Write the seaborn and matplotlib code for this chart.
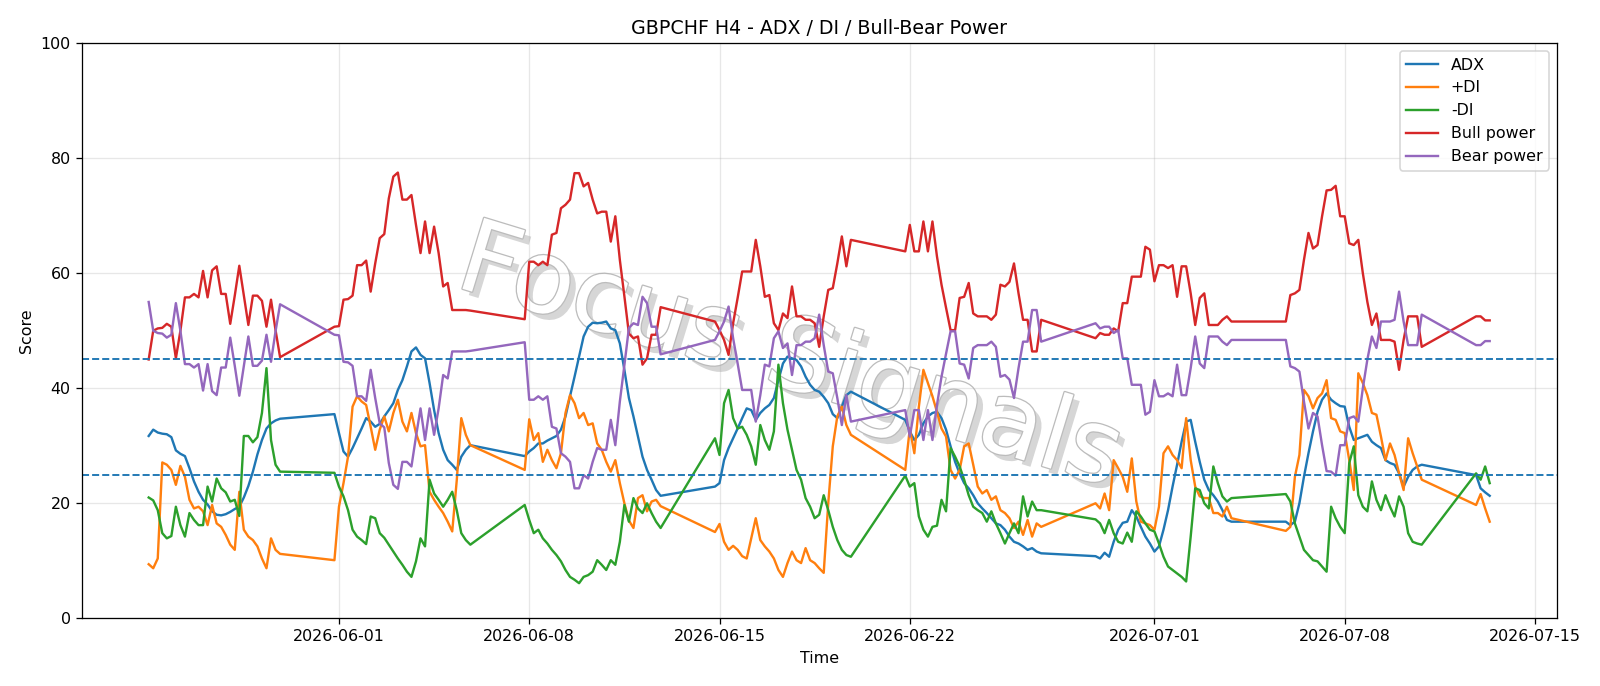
import matplotlib

matplotlib.use("Agg")
import matplotlib.patheffects as pe
import matplotlib.pyplot as plt
import pandas as pd
import seaborn as sns

# H4 bars: Sunday 20:00 open through Friday 20:00, weekends skipped
bar_times = pd.date_range("2026-05-25 00:00", "2026-07-13 08:00", freq="4h")
bar_times = bar_times[(bar_times.dayofweek < 5) | ((bar_times.dayofweek == 6) & (bar_times.hour == 20))]

adx = [
    31.7, 32.8, 32.3, 32.1, 32.0, 31.5, 29.2, 28.6, 28.2, 26.1, 23.8, 22.0, 20.6, 19.8, 18.6,
    18.0, 17.9, 18.1, 18.5, 19.0, 19.4, 21.0, 23.0, 25.5, 28.5, 31.0, 33.0, 33.9, 34.4, 34.7,
    35.5, 32.2, 29.0, 28.1, 29.6, 31.3, 33.0, 34.8, 34.2, 33.3, 33.8, 35.1, 36.2, 37.4, 39.7, 41.4,
    43.8, 46.4, 47.1, 45.8, 45.2, 40.9, 36.2, 32.2, 29.3, 27.5, 26.7, 25.8, 28.1, 29.3, 30.1,
    28.2, 29.0, 29.6, 30.4, 30.4, 30.9, 31.3, 31.7, 32.8, 35.1, 38.6, 42.0, 45.5, 49.0, 50.7, 51.4,
    51.3, 51.4, 51.6, 50.4, 50.1, 47.8, 43.2, 38.3, 35.1, 31.6, 28.1, 25.8, 24.1, 22.3, 21.3,
    22.9, 23.5, 27.5, 29.6, 31.3, 33.0, 34.8, 36.5, 36.2, 34.5, 35.7, 36.5, 37.1, 38.3, 41.4, 44.3,
    45.5, 45.2, 44.9, 43.8, 42.0, 40.6, 39.7, 39.4, 38.5, 37.4, 35.5, 34.8, 36.8, 38.8, 39.4,
    34.5, 32.5, 31.0, 31.9, 33.9, 35.1, 35.7, 35.9, 34.8, 32.8, 29.9, 27.2, 25.2, 23.5, 22.6, 21.4,
    20.0, 19.1, 18.3, 17.4, 16.5, 16.2, 15.4, 14.2, 13.3, 13.0, 12.5, 11.9, 12.2, 11.6, 11.3,
    10.8, 10.4, 11.4, 10.7, 13.3, 15.4, 16.6, 16.8, 18.8, 17.7, 15.9, 14.2, 13.0, 11.6, 12.5, 15.4,
    18.8, 22.9, 26.7, 30.7, 34.2, 34.5, 30.7, 27.2, 24.1, 22.3, 21.4, 20.3, 18.8, 17.1, 16.8,
    16.8, 16.2, 16.8, 20.0, 24.6, 28.7, 32.5, 35.9, 38.0, 39.1, 38.0, 37.4, 36.9, 36.8, 33.3, 31.0,
    31.3, 31.6, 31.9, 30.7, 30.1, 29.6, 27.5, 27.0, 26.7, 25.2, 22.9, 24.6, 25.8, 26.4, 26.7,
    24.9, 22.6, 21.9, 21.3,
]

plus_di = [
    9.4, 8.7, 10.4, 27.1, 26.7, 25.8, 23.2, 26.5, 24.6, 20.6, 19.1, 19.4, 18.6, 16.2, 19.7,
    16.5, 15.9, 14.5, 12.8, 11.9, 22.0, 15.4, 14.2, 13.6, 12.5, 10.4, 8.7, 13.9, 11.9, 11.2,
    10.1, 19.4, 23.5, 28.1, 36.8, 38.6, 37.7, 37.1, 33.3, 29.3, 32.8, 35.1, 32.5, 35.7, 38.0, 34.2,
    32.5, 35.7, 32.2, 29.9, 30.1, 22.0, 20.6, 19.4, 18.3, 16.8, 15.1, 24.0, 34.8, 31.9, 30.1,
    25.8, 34.6, 31.0, 32.2, 27.2, 29.3, 27.5, 26.1, 28.7, 35.7, 38.8, 37.4, 34.8, 35.7, 33.6, 33.9,
    30.4, 29.3, 27.2, 25.5, 27.5, 23.5, 20.0, 17.0, 15.7, 20.9, 21.4, 18.6, 20.3, 20.6, 19.5,
    15.0, 16.4, 13.3, 11.9, 12.6, 11.9, 10.8, 10.4, 13.9, 17.4, 13.6, 12.5, 11.6, 10.4, 8.4, 7.2,
    9.6, 11.6, 10.1, 9.6, 12.2, 10.1, 9.6, 8.7, 7.9, 20.0, 29.9, 35.1, 36.8, 33.6, 31.9,
    25.8, 33.0, 28.7, 36.8, 43.2, 40.9, 38.6, 35.9, 33.0, 31.6, 25.8, 24.3, 25.8, 29.9, 30.4, 26.7,
    22.9, 21.7, 22.3, 20.6, 21.2, 18.8, 18.3, 17.4, 15.7, 16.8, 14.5, 17.1, 14.2, 16.5, 15.9,
    20.0, 19.1, 21.7, 18.8, 27.5, 26.1, 24.6, 22.0, 27.8, 20.3, 16.8, 16.5, 16.2, 15.4, 19.4, 28.7,
    29.9, 28.4, 27.5, 26.1, 34.8, 27.5, 22.9, 21.2, 20.9, 20.9, 18.3, 18.3, 17.7, 19.4, 17.4,
    15.2, 15.9, 24.6, 28.4, 39.7, 38.6, 36.5, 38.3, 39.1, 41.4, 34.8, 34.5, 32.5, 32.2, 27.5, 22.3,
    42.6, 40.9, 38.8, 35.7, 35.4, 31.6, 27.5, 30.4, 28.4, 25.2, 22.3, 31.3, 28.7, 26.4, 24.1,
    19.7, 21.6, 19.1, 16.8,
]

minus_di = [
    21.0, 20.5, 18.8, 14.8, 13.9, 14.3, 19.4, 16.2, 14.2, 18.3, 17.1, 16.2, 16.2, 22.9, 20.3,
    24.3, 22.6, 21.9, 20.3, 20.6, 17.8, 31.7, 31.7, 30.6, 31.5, 35.7, 43.5, 31.0, 26.7, 25.5,
    25.3, 22.9, 21.2, 18.8, 15.4, 14.2, 13.6, 12.9, 17.7, 17.4, 14.8, 14.0, 12.8, 11.6, 10.4, 9.3,
    8.1, 7.2, 9.9, 13.9, 12.5, 24.1, 21.7, 20.6, 19.4, 20.6, 22.0, 18.8, 14.8, 13.6, 12.8,
    19.7, 17.1, 14.8, 15.4, 13.9, 13.0, 11.9, 11.0, 9.9, 8.4, 7.2, 6.7, 6.1, 7.2, 7.5, 8.1,
    10.1, 9.3, 8.4, 10.1, 9.3, 13.3, 19.7, 16.8, 20.9, 19.1, 18.3, 20.0, 18.3, 16.8, 15.7,
    31.3, 28.4, 37.4, 39.7, 34.8, 33.0, 33.3, 31.9, 29.9, 26.7, 33.6, 31.0, 29.3, 32.5, 44.1, 37.4,
    32.8, 29.3, 25.8, 24.1, 20.9, 19.4, 17.4, 18.0, 21.4, 18.8, 15.9, 13.6, 11.9, 11.0, 10.7,
    24.8, 22.9, 23.5, 17.7, 15.4, 14.2, 15.9, 16.1, 20.6, 18.6, 29.6, 28.1, 26.4, 24.1, 21.4, 19.4,
    18.8, 18.3, 16.8, 18.6, 16.5, 14.8, 13.0, 14.8, 16.5, 14.8, 21.2, 17.7, 20.3, 18.8, 18.8,
    17.2, 16.5, 14.8, 17.1, 14.8, 13.3, 13.0, 14.9, 13.3, 18.6, 17.7, 16.5, 15.4, 15.1, 13.0, 10.7,
    9.0, 8.4, 7.8, 7.2, 6.4, 14.2, 22.6, 22.3, 20.0, 19.1, 26.4, 23.5, 21.2, 20.3, 20.9,
    21.6, 20.3, 16.5, 14.2, 11.9, 11.0, 10.1, 9.9, 9.0, 8.1, 19.4, 17.4, 15.9, 14.8, 27.0, 29.9,
    21.4, 19.4, 18.6, 23.8, 20.6, 18.8, 21.4, 19.4, 17.7, 21.2, 19.4, 14.8, 13.3, 13.0, 12.8,
    25.2, 24.1, 26.4, 23.5,
]

bull_power = [
    45.0, 50.0, 50.4, 50.5, 51.2, 50.7, 45.2, 50.0, 55.8, 55.8, 56.4, 55.8, 60.4, 55.8, 60.5,
    61.2, 56.4, 56.4, 51.2, 56.1, 61.3, 56.1, 51.0, 56.1, 56.1, 55.2, 50.7, 55.4, 50.1, 45.4,
    50.7, 50.8, 55.4, 55.5, 56.1, 61.4, 61.4, 62.2, 56.8, 61.7, 66.1, 66.8, 73.0, 76.8, 77.5, 72.8,
    72.8, 73.6, 68.4, 63.5, 69.0, 63.5, 68.1, 63.5, 57.7, 58.3, 53.6, 53.6, 53.6, 53.6, 53.5,
    52.0, 62.0, 62.0, 61.4, 62.0, 61.4, 66.7, 67.0, 71.3, 71.9, 72.8, 77.4, 77.4, 75.1, 75.7, 72.8,
    70.4, 70.7, 70.7, 65.5, 69.9, 62.3, 56.0, 49.5, 48.7, 49.0, 44.1, 45.2, 49.3, 49.3, 54.1,
    51.6, 50.1, 48.4, 45.8, 51.3, 55.7, 60.3, 60.3, 60.3, 65.8, 61.2, 55.9, 56.2, 51.3, 50.1, 53.0,
    52.2, 57.7, 52.5, 52.5, 51.9, 51.9, 51.3, 47.2, 52.5, 57.1, 57.4, 61.7, 66.4, 61.2, 65.8,
    63.8, 68.4, 63.8, 63.8, 69.0, 63.8, 69.0, 62.9, 58.0, 54.0, 50.1, 50.1, 55.7, 55.9, 58.3, 53.0,
    52.5, 52.5, 52.5, 51.9, 52.8, 58.0, 57.7, 58.5, 61.7, 56.5, 51.9, 51.9, 46.4, 46.4, 51.9,
    48.7, 49.6, 49.3, 49.3, 50.4, 49.9, 54.8, 54.8, 59.4, 59.4, 59.4, 64.6, 64.1, 58.6, 61.4, 61.4,
    60.9, 61.4, 55.9, 61.2, 61.2, 56.5, 51.0, 55.7, 56.5, 51.0, 51.0, 51.0, 51.9, 52.5, 51.6,
    51.6, 56.2, 56.5, 57.1, 62.3, 67.0, 64.3, 64.9, 69.9, 74.4, 74.5, 75.2, 69.9, 69.9, 65.2, 64.9,
    65.8, 60.0, 55.0, 51.0, 53.0, 48.4, 48.4, 48.4, 48.1, 43.2, 48.4, 52.5, 52.5, 52.5, 47.2,
    52.5, 52.5, 51.8, 51.8,
]

bear_power = [
    55.0, 50.0, 49.6, 49.5, 48.8, 49.3, 54.8, 50.0, 44.2, 44.2, 43.6, 44.2, 39.6, 44.2, 39.5,
    38.8, 43.6, 43.6, 48.8, 43.9, 38.7, 43.9, 49.0, 43.9, 43.9, 44.8, 49.3, 44.6, 49.9, 54.6,
    49.3, 49.2, 44.6, 44.5, 43.9, 38.6, 38.6, 37.8, 43.2, 38.3, 33.9, 33.2, 27.0, 23.2, 22.5, 27.2,
    27.2, 26.4, 31.6, 36.5, 31.0, 36.5, 31.9, 36.5, 42.3, 41.7, 46.4, 46.4, 46.4, 46.4, 46.5,
    48.0, 38.0, 38.0, 38.6, 38.0, 38.6, 33.3, 33.0, 28.7, 28.1, 27.2, 22.6, 22.6, 24.9, 24.3, 27.2,
    29.6, 29.3, 29.3, 34.5, 30.1, 37.7, 44.0, 50.5, 51.3, 51.0, 55.9, 54.8, 50.7, 50.7, 45.9,
    48.4, 49.9, 51.6, 54.2, 48.7, 44.3, 39.7, 39.7, 39.7, 34.2, 38.8, 44.1, 43.8, 48.7, 49.9, 47.0,
    47.8, 42.3, 47.5, 47.5, 48.1, 48.1, 48.7, 52.8, 47.5, 42.9, 42.6, 38.3, 33.6, 38.8, 34.2,
    36.2, 31.6, 36.2, 36.2, 31.0, 36.2, 31.0, 37.1, 42.0, 46.0, 49.9, 49.9, 44.3, 44.1, 41.7, 47.0,
    47.5, 47.5, 47.5, 48.1, 47.2, 42.0, 42.3, 41.5, 38.3, 43.5, 48.1, 48.1, 53.6, 53.6, 48.1,
    51.3, 50.4, 50.7, 50.7, 49.6, 50.1, 45.2, 45.2, 40.6, 40.6, 40.6, 35.4, 35.9, 41.4, 38.6, 38.6,
    39.1, 38.6, 44.1, 38.8, 38.8, 43.5, 49.0, 44.3, 43.5, 49.0, 49.0, 49.0, 48.1, 47.5, 48.4,
    48.4, 43.8, 43.5, 42.9, 37.7, 33.0, 35.7, 35.1, 30.1, 25.6, 25.5, 24.8, 30.1, 30.1, 34.8, 35.1,
    34.2, 40.0, 45.0, 49.0, 47.0, 51.6, 51.6, 51.6, 51.9, 56.8, 51.6, 47.5, 47.5, 47.5, 52.8,
    47.5, 47.5, 48.2, 48.2,
]

series_names = ["ADX", "+DI", "-DI", "Bull power", "Bear power"]
series_colors = ["#1f77b4", "#ff7f0e", "#2ca02c", "#d62728", "#9467bd"]
threshold_levels = [25, 45]

df = pd.DataFrame({
    "time": bar_times,
    "ADX": adx,
    "+DI": plus_di,
    "-DI": minus_di,
    "Bull power": bull_power,
    "Bear power": bear_power,
})

fig, ax = plt.subplots(figsize=(14, 6), dpi=114.34)
fig.subplots_adjust(left=0.051, right=0.9725, bottom=0.0987, top=0.937)

# watermark: white letters, grey outline, soft drop shadow
ax.text(0.48, 0.45, "Focus Signals", transform=ax.transAxes, fontsize=64,
        color="white", rotation=-17, ha="center", va="center", zorder=0,
        path_effects=[pe.withSimplePatchShadow(offset=(4, -4), shadow_rgbFace="#d6d6d6", alpha=1),
                      pe.Stroke(linewidth=1.6, foreground="#bcbcbc"), pe.Normal()])

for name, color in zip(series_names, series_colors):
    sns.lineplot(data=df, x="time", y=name, color=color, label=name, linewidth=1.5, ax=ax)

for level in threshold_levels:
    ax.axhline(level, color="#1f77b4", linestyle="--", linewidth=1.2)

ax.set_ylim(0, 100)
ax.grid(True, alpha=0.3)
ax.set_title("GBPCHF H4 - ADX / DI / Bull-Bear Power")
ax.set_xlabel("Time")
ax.set_ylabel("Score")
ax.legend(loc="upper right")

fig.savefig("out.png", dpi=114.34)
